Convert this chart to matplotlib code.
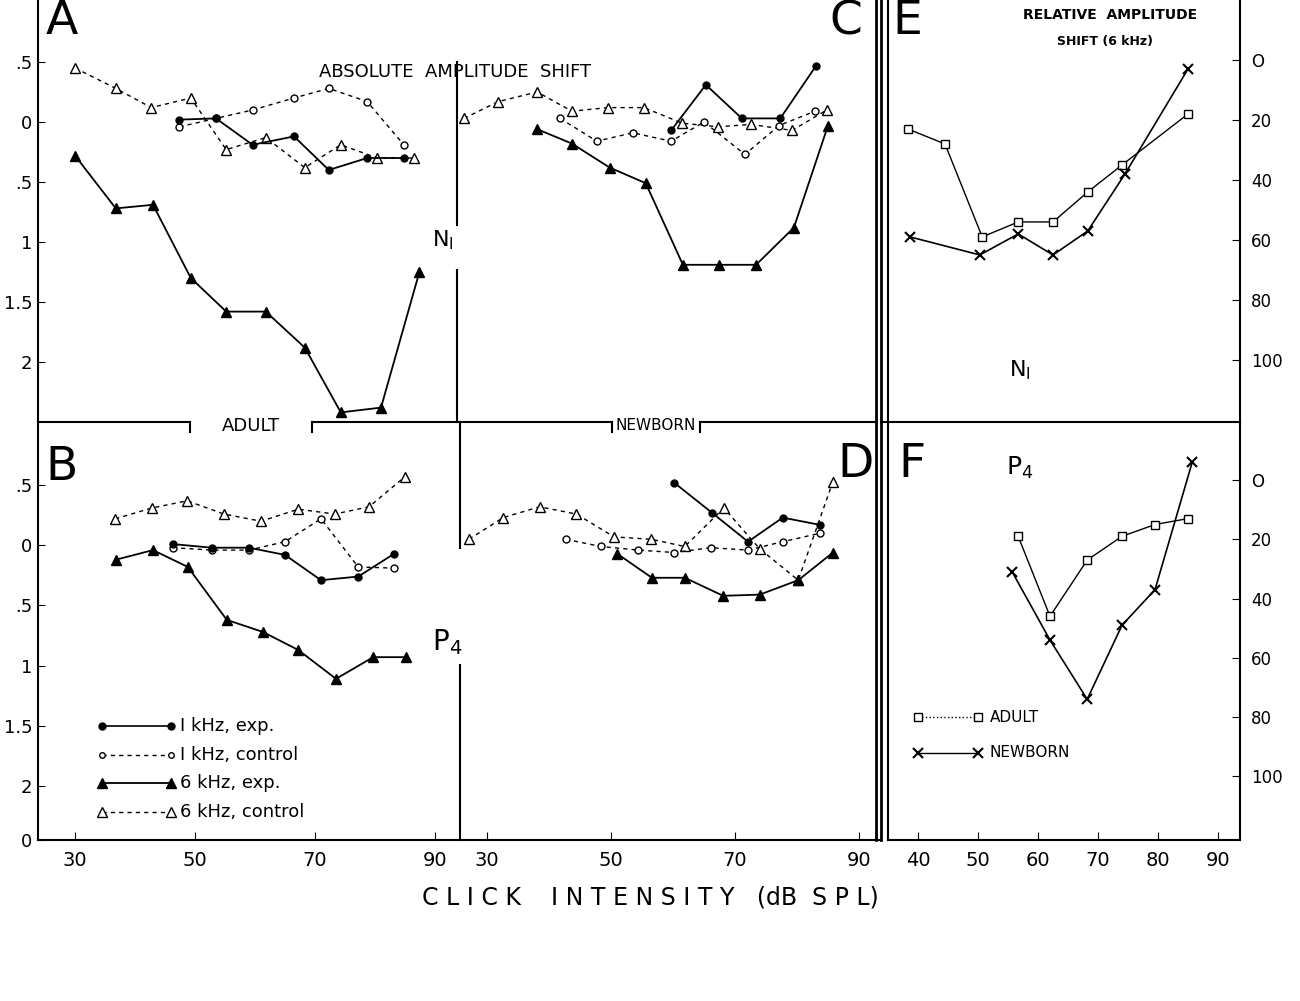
import matplotlib
matplotlib.use("Agg")
import matplotlib.pyplot as plt
from matplotlib.lines import Line2D

W, H = 1300, 1001
# ---------- data ----------
# Panel A (adult, N1)
A_6c_x = [30, 36.8, 42.7, 49.3, 55.2, 61.8, 68.3, 74.3, 80.4, 86.5]
A_6c_y = [.45, .28, .12, .2, -.23, -.13, -.38, -.19, -.3, -.3]
A_1c_x = [47.4, 53.5, 59.6, 66.5, 72.3, 78.7, 84.8]
A_1c_y = [-.04, .03, .1, .2, .28, .17, -.19]
A_1e_x = [47.4, 53.5, 59.6, 66.5, 72.3, 78.7, 84.8]
A_1e_y = [.02, .03, -.19, -.12, -.4, -.3, -.3]
A_6e_x = [30, 36.8, 43, 49.3, 55.2, 61.8, 68.3, 74.3, 81, 87.4]
A_6e_y = [-.28, -.72, -.69, -1.3, -1.58, -1.58, -1.88, -2.42, -2.38, -1.25]
# Panel B (adult, P4)
B_6c_x = [36.7, 42.8, 48.7, 54.8, 61, 67.2, 73.3, 79, 85]
B_6c_y = [.22, .31, .37, .26, .2, .3, .26, .32, .57]
B_1c_x = [46.3, 52.8, 59, 65, 71, 77.2, 83.2]
B_1c_y = [-.02, -.04, -.04, .03, .22, -.18, -.19]
B_1e_x = [46.3, 52.8, 59, 65, 71, 77.2, 83.2]
B_1e_y = [.01, -.02, -.02, -.08, -.29, -.26, -.07]
B_6e_x = [36.8, 43, 48.8, 55.3, 61.3, 67.2, 73.5, 79.7, 85.2]
B_6e_y = [-.12, -.04, -.18, -.62, -.72, -.87, -1.11, -.93, -.93]
# Panel C (newborn, N1)
C_6c_x = [26.3, 31.8, 38.1, 43.7, 49.5, 55.3, 61.5, 67.3, 72.6, 79.2, 84.8]
C_6c_y = [.03, .17, .25, .09, .12, .12, -.01, -.04, -.02, -.07, .1]
C_1c_x = [41.8, 47.7, 53.5, 59.7, 65, 71.6, 77.1, 82.9]
C_1c_y = [.03, -.16, -.09, -.16, 0, -.27, -.03, .09]
C_1e_x = [59.7, 65.3, 71.1, 77.3, 83.1]
C_1e_y = [-.07, .31, .03, .03, .47]
C_6e_x = [38.1, 43.7, 49.8, 55.6, 61.6, 67.4, 73.4, 79.5, 85]
C_6e_y = [-.06, -.18, -.38, -.51, -1.19, -1.19, -1.19, -.88, -.03]
# Panel D (newborn, P4)
D_6c_x = [27.1, 32.6, 38.5, 44.4, 50.5, 56.5, 61.9, 68.2, 74, 80.2, 85.8]
D_6c_y = [.05, .23, .32, .26, .07, .05, -.01, .31, -.03, -.29, .53]
D_1c_x = [42.7, 48.4, 54.4, 60.2, 66.1, 72.1, 77.7, 83.7]
D_1c_y = [.05, -.01, -.04, -.06, -.02, -.04, .03, .1]
D_1e_x = [60.2, 66.3, 72.1, 77.7, 83.7]
D_1e_y = [.52, .27, .03, .23, .17]
D_6e_x = [51, 56.6, 61.9, 68.1, 74, 80.2, 85.8]
D_6e_y = [-.07, -.27, -.27, -.42, -.41, -.29, -.06]
# Panel E (relative shift, N1)
E_ad_x = [38.3, 44.5, 50.7, 56.7, 62.5, 68.3, 74, 85]
E_ad_y = [23, 28, 59, 54, 54, 44, 35, 18]
E_nb_x = [38.7, 50.3, 56.7, 62.5, 68.3, 74.5, 85]
E_nb_y = [59, 65, 58, 65, 57, 38, 3]
# Panel F (relative shift, P4)
F_ad_x = [56.7, 62, 68.2, 74, 79.5, 85]
F_ad_y = [19, 46, 27, 19, 15, 13]
F_nb_x = [55.7, 62, 68.2, 74, 79.5, 85.7]
F_nb_y = [31, 54, 74, 49, 37, -6]

left_ticks = [.5, 0, -.5, -1, -1.5, -2]
left_labels = [".5", "0", ".5", "1", "1.5", "2"]
right_ticks = [0, 20, 40, 60, 80, 100]
xt_abs = [30, 50, 70, 90]
xt_rel = [40, 50, 60, 70, 80, 90]

fig = plt.figure(figsize=(13, 10.01), dpi=100)
plt.rcParams['font.family'] = 'DejaVu Sans'

def rect(x0, y0, x1, y1):
    return [x0 / W, 1 - y1 / H, (x1 - x0) / W, (y1 - y0) / H]

def pts(x, y):
    return x / W, 1 - y / H

def abs_ax(r, xlim, ylim, bottom):
    ax = fig.add_axes(r)
    ax.set_xlim(*xlim); ax.set_ylim(*ylim)
    for s in ['top', 'right']:
        ax.spines[s].set_visible(False)
    ax.spines['bottom'].set_visible(bottom)
    ax.patch.set_alpha(0)
    return ax

def draw4(ax, d):
    (x6c, y6c), (x1c, y1c), (x1e, y1e), (x6e, y6e) = d
    ax.plot(x6c, y6c, 'k--', marker='^', mfc='white', ms=7, lw=1, dashes=(3, 3))
    ax.plot(x1c, y1c, 'k--', marker='o', mfc='white', ms=5, lw=1, dashes=(3, 3))
    ax.plot(x1e, y1e, 'k-', marker='o', ms=5, lw=1.3)
    ax.plot(x6e, y6e, 'k-', marker='^', ms=7, lw=1.3)

xl_L = (30 + (38 - 75) / 6, 30 + (457 - 75) / 6)
xl_C = (30 + (457 - 487) / 6.2, 30 + (880 - 487) / 6.2)
yl_T = (-2.5, 122 / 120)
yl_B = (-2.45, 123 / 120)

axA = abs_ax(rect(38, 0, 457, 422), xl_L, yl_T, False)
axB = abs_ax(rect(38, 422, 457, 840), xl_L, yl_B, True)
axC = abs_ax(rect(457, 0, 880, 422), xl_C, yl_T, False)
axD = abs_ax(rect(457, 422, 880, 840), xl_C, yl_B, True)
for ax in (axC, axD):
    ax.spines['left'].set_visible(False)
    ax.tick_params(axis='y', left=False, labelleft=False)
for ax in (axA, axB):
    ax.set_yticks(left_ticks)
    ax.set_yticklabels(left_labels, fontsize=13)
    ax.tick_params(axis='y', direction='in', length=5, pad=4)
axB.set_yticks(left_ticks + [-2.45])
axB.set_yticklabels(left_labels + ["0"], fontsize=13)
for ax in (axA, axC):
    ax.tick_params(axis='x', bottom=False, labelbottom=False)
for ax in (axB, axD):
    ax.set_xticks(xt_abs)
    ax.set_xticklabels([str(v) for v in xt_abs], fontsize=14)
    ax.tick_params(axis='x', direction='in', length=6, pad=8)
    ax.spines['bottom'].set_linewidth(1.5)
axA.spines['left'].set_linewidth(1.5); axB.spines['left'].set_linewidth(1.5)

draw4(axA, [(A_6c_x, A_6c_y), (A_1c_x, A_1c_y), (A_1e_x, A_1e_y), (A_6e_x, A_6e_y)])
draw4(axB, [(B_6c_x, B_6c_y), (B_1c_x, B_1c_y), (B_1e_x, B_1e_y), (B_6e_x, B_6e_y)])
draw4(axC, [(C_6c_x, C_6c_y), (C_1c_x, C_1c_y), (C_1e_x, C_1e_y), (C_6e_x, C_6e_y)])
draw4(axD, [(D_6c_x, D_6c_y), (D_1c_x, D_1c_y), (D_1e_x, D_1e_y), (D_6e_x, D_6e_y)])

def rel_ax(r, ylim, bottom):
    ax = fig.add_axes(r)
    ax.set_xlim(40 + (888 - 918) / 6, 40 + (1240 - 918) / 6)
    ax.set_ylim(*ylim)
    ax.spines['top'].set_visible(False)
    ax.spines['bottom'].set_visible(bottom)
    ax.yaxis.tick_right()
    ax.set_yticks(right_ticks)
    ax.set_yticklabels(["O", "20", "40", "60", "80", "100"], fontsize=12)
    ax.tick_params(axis='y', direction='in', length=6, pad=8)
    ax.patch.set_alpha(0)
    for s in ['left', 'right', 'bottom']:
        ax.spines[s].set_linewidth(1.5)
    return ax

axE = rel_ax(rect(888, 0, 1240, 422), (120.7, -20), False)
axF = rel_ax(rect(888, 422, 1240, 840), (121.5, -19.6), True)
axE.tick_params(axis='x', bottom=False, labelbottom=False)
axF.set_xticks(xt_rel)
axF.set_xticklabels([str(v) for v in xt_rel], fontsize=14)
axF.tick_params(axis='x', direction='in', length=6, pad=8)
for ax, (ax_, ay_), (nx_, ny_) in ((axE, (E_ad_x, E_ad_y), (E_nb_x, E_nb_y)),
                                   (axF, (F_ad_x, F_ad_y), (F_nb_x, F_nb_y))):
    ax.plot(ax_, ay_, 'k-', marker='s', mfc='white', ms=6, lw=1)
    ax.plot(nx_, ny_, 'k-', marker='x', ms=7, mew=1.5, lw=1.2)

axB.add_line(Line2D([34.5, 46], [-1.5, -1.5], color='k', lw=1.2, marker='o', ms=5))
axB.add_line(Line2D([34.5, 46], [-1.74, -1.74], color='k', lw=1, ls='--', dashes=(3, 3), marker='o', mfc='white', ms=4))
axB.add_line(Line2D([34.5, 46], [-1.98, -1.98], color='k', lw=1.3, marker='^', ms=7))
axB.add_line(Line2D([34.5, 46], [-2.22, -2.22], color='k', lw=1, ls='--', dashes=(3, 3), marker='^', mfc='white', ms=7))
for yy, t in ((-1.5, "I kHz, exp."), (-1.74, "I kHz, control"), (-1.98, "6 kHz, exp."), (-2.22, "6 kHz, control")):
    axB.text(47.5, yy, t, fontsize=13, va='center')
axF.plot([40, 50], [80, 80], 'k:', marker='s', mfc='white', ms=6, lw=1)
axF.plot([40, 50], [92, 92], 'k-', marker='x', ms=7, mew=1.5, lw=1)
axF.text(52, 80, "ADULT", fontsize=11, va='center')
axF.text(52, 92, "NEWBORN", fontsize=11, va='center')

def fline(x, y, lw=1.5):
    fig.add_artist(Line2D([pts(a, 0)[0] for a in x], [pts(0, b)[1] for b in y], color='k', lw=lw))

fline([457, 457], [62, 225]); fline([457, 457], [270, 422])
fline([460, 460], [422, 548]); fline([460, 460], [665, 840])
fline([876, 876], [0, 840], 2); fline([881, 881], [0, 840], 2)
fline([38, 190], [422, 422]); fline([190, 190], [422, 432]); fline([312, 312], [422, 432]); fline([312, 457], [422, 422])
fline([457, 612], [422, 422]); fline([612, 612], [422, 432]); fline([700, 700], [422, 432]); fline([700, 876], [422, 422])
fline([881, 1240], [422, 422])

def ftext(x, y, s, **kw):
    fig.text(*pts(x, y), s, ha='center', va='center', **kw)

ftext(62, 22, "A", fontsize=34)
ftext(455, 72, "ABSOLUTE  AMPLITUDE  SHIFT", fontsize=13)
ftext(846, 22, "C", fontsize=34)
ftext(907, 22, "E", fontsize=34)
ftext(1110, 15, "RELATIVE  AMPLITUDE", fontsize=10, fontweight='bold')
ftext(1105, 42, "SHIFT (6 kHz)", fontsize=9, fontweight='bold')
ftext(443, 240, "N$_{\\mathsf{I}}$", fontsize=16)
ftext(1020, 370, "N$_{\\mathsf{I}}$", fontsize=16)
ftext(62, 467, "B", fontsize=34)
ftext(855, 465, "D", fontsize=34)
ftext(912, 465, "F", fontsize=34)
ftext(447, 642, "P$_{\\mathsf{4}}$", fontsize=20)
ftext(1020, 468, "P$_{\\mathsf{4}}$", fontsize=18)
ftext(251, 426, "ADULT", fontsize=13)
ftext(656, 425, "NEWBORN", fontsize=11)
ftext(650, 897, "C L I C K    I N T E N S I T Y   (dB  S P L)", fontsize=17)

fig.savefig("out.png", dpi=100)
